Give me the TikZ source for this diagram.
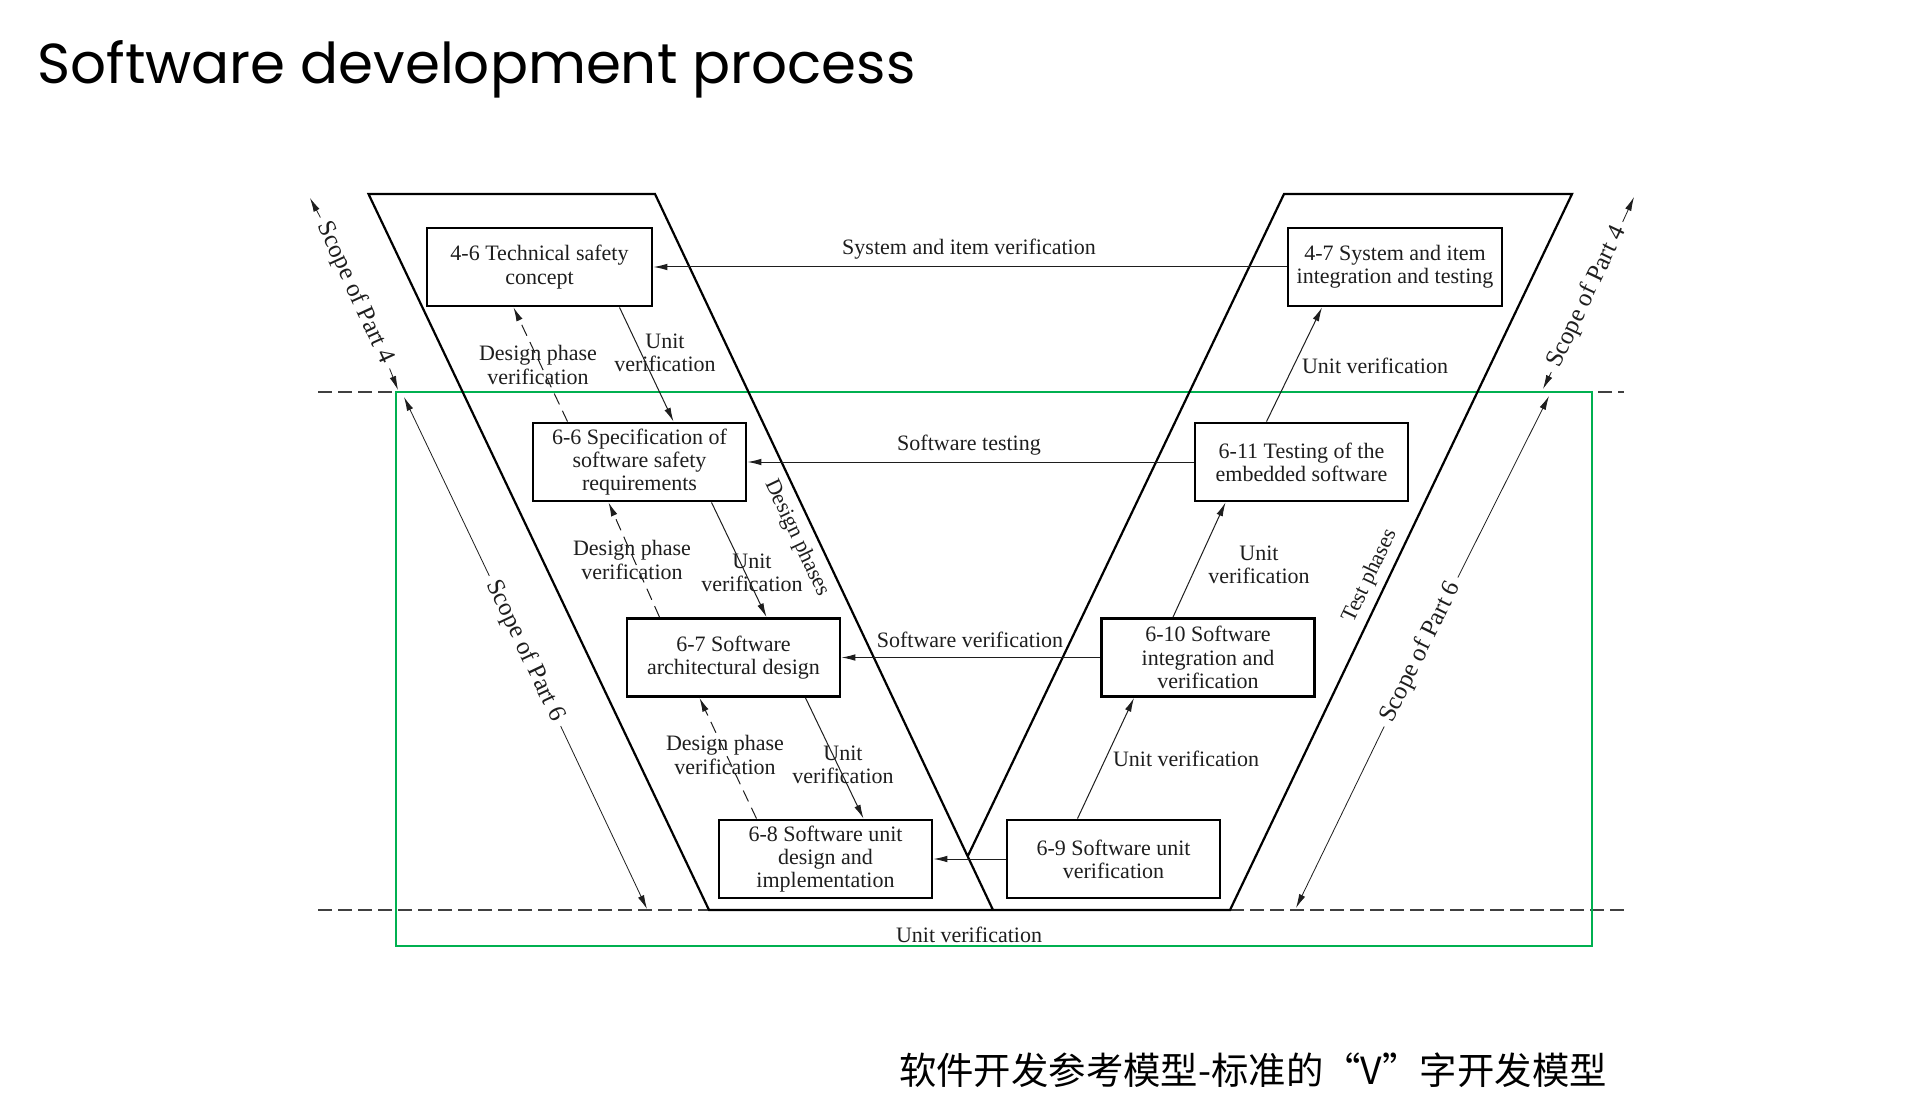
\documentclass[tikz,border=0pt]{standalone}
\usepackage{fontspec}
\usepackage{graphicx}
\setmainfont{Liberation Serif}
\newfontfamily\titlefont{Poppins}
\newfontfamily\cjkfont{Noto Sans CJK SC}
\usetikzlibrary{arrows.meta,calc}
\definecolor{vgreen}{RGB}{0,176,80}
\definecolor{ink}{RGB}{30,30,30}
\begin{document}
\begin{tikzpicture}[x=0.5pt,y=-0.5pt,
  lbl/.style={font=\fontsize{11}{11.6}\selectfont, text=ink, align=center, inner sep=1pt},
  scopelbl/.style={font=\fontsize{12.5}{13}\selectfont, text=ink, inner sep=3pt},
  stage/.style={draw=black, line width=1.4pt, minimum width=106.5pt, minimum height=39pt,
    align=center, font=\fontsize{11}{11.6}\selectfont, text=ink, inner sep=1pt},
  arr/.style={line width=0.5pt, draw=ink, -{Latex[length=7pt,width=3.3pt]}},
  dasharr/.style={arr, dash pattern=on 6pt off 3.5pt},
  sarr/.style={line width=0.4pt, draw=ink, -{Latex[length=7pt,width=3.3pt]}},
  vline/.style={line width=1.1pt, draw=black},
  bound/.style={line width=0.7pt, draw=ink!85, dash pattern=on 7pt off 3pt}]
\useasboundingbox (0,0) rectangle (1926,1117);
\fill[white] (0,0) rectangle (1926,1117);

% title and caption
\node[anchor=base west, inner sep=0] (title) at (37,84)
  {\resizebox{439pt}{!}{\titlefont Software development process}};
\node[font=\cjkfont\fontsize{18.7}{18.7}\selectfont, inner sep=0] (caption) at (1253,1070)
  {软件开发参考模型-标准的“V”字开发模型};

% scope boundaries
\draw[bound] (318,392) -- (1624,392);
\draw[bound] (318,910) -- (709,910);
\draw[bound] (1230,910) -- (1624,910);

% green frame
\draw[vgreen, line width=1pt] (395.5,392.5) rectangle (1592,946);

% V shape
\coordinate (LTL) at (368.5,194);
\coordinate (LTR) at (655,194);
\coordinate (LBL) at (709,910);
\coordinate (LBR) at (993,910);
\coordinate (RTL) at (1284,194);
\coordinate (RTR) at (1572,194);
\coordinate (RBR) at (1230,910);
\coordinate (RBLx) at (942,910);
\coordinate (VX) at (intersection of LTR--LBR and RTL--RBLx);
\draw[vline] (LBR) -- (LTR) -- (LTL) -- (LBL) -- (RBR) -- (RTR) -- (RTL) -- (VX);

% stages
\node[stage, minimum width=112.5pt] (n46) at (539.5,267) {4-6 Technical safety\\concept};
\node[stage, minimum width=107pt] (n47) at (1395,267) {4-7 System and item\\integration and testing};
\node[stage] (n66) at (639.5,462) {6-6 Specification of\\software safety\\requirements};
\node[stage] (n611) at (1301.5,462) {6-11 Testing of the\\embedded software};
\node[stage] (n67) at (733.5,657.5) {6-7 Software\\architectural design};
\node[stage] (n610) at (1208,657.5) {6-10 Software\\integration and\\verification};
\node[stage] (n68) at (825.5,859) {6-8 Software unit\\design and\\implementation};
\node[stage] (n69) at (1113.5,859) {6-9 Software unit\\verification};

% horizontal verification arrows
\draw[arr] (n47.west) -- (n46.east);
\draw[arr] (n611.west) -- (n66.east);
\draw[arr] (n610.west) -- (n67.east);
\draw[arr] (n69.west) -- (n68.east);
\node[lbl] (l1) at (969,249) {System and item verification};
\node[lbl] (l2) at (969,445) {Software testing};
\node[lbl] (l3) at (970,640) {Software verification};
\node[lbl] (l4) at (969,935) {Unit verification};

% left side diagonals
\draw[dasharr] ($(n66.north)+(-72,0)$) -- ($(n46.south)+(-26,0)$);
\draw[arr] ($(n46.south)+(80,0)$) -- ($(n66.north)+(34,0)$);
\draw[dasharr] ($(n67.north)+(-74,0)$) -- ($(n66.south)+(-31,0)$);
\draw[arr] ($(n66.south)+(72,0)$) -- ($(n67.north)+(33,0)$);
\draw[dasharr] ($(n68.north)+(-69,0)$) -- ($(n67.south)+(-34,0)$);
\draw[arr] ($(n67.south)+(72,0)$) -- ($(n68.north)+(38,0)$);
\node[lbl] (dv1) at (538,365) {Design phase\\verification};
\node[lbl] (uv1) at (665,353) {Unit\\verification};
\node[lbl] (dv2) at (632,560) {Design phase\\verification};
\node[lbl] (uv2) at (752,573) {Unit\\verification};
\node[lbl] (dv3) at (725,755) {Design phase\\verification};
\node[lbl] (uv3) at (843,765) {Unit\\verification};

% right side diagonals
\draw[arr] ($(n69.north)+(-36,0)$) -- ($(n610.south)+(-74,0)$);
\draw[arr] ($(n610.north)+(-35,0)$) -- ($(n611.south)+(-76,0)$);
\draw[arr] ($(n611.north)+(-35,0)$) -- ($(n47.south)+(-73,0)$);
\node[lbl] (uvr1) at (1186,759) {Unit verification};
\node[lbl] (uvr2) at (1259,565) {Unit\\verification};
\node[lbl] (uvr3) at (1375,366) {Unit verification};

% phase labels
\node[lbl, rotate=-64.5] (dphase) at (797,538) {Design phases};
\node[lbl, rotate=64.5] (tphase) at (1370,576) {Test phases};

% scope arrows
\node[scopelbl, rotate=-65.4] (s4l) at (355,293) {Scope of Part 4};
\coordinate (s4lA) at (310,198);
\coordinate (s4lB) at (398,390);
\draw[sarr] (s4l.west) -- (s4lA);
\draw[sarr] (s4l.east) -- (s4lB);

\node[scopelbl, rotate=-64.6] (s6l) at (525,651) {Scope of Part 6};
\coordinate (s6lA) at (404,397);
\coordinate (s6lB) at (647,909);
\draw[sarr] (s6l.west) -- (s6lA);
\draw[sarr] (s6l.east) -- (s6lB);

\node[scopelbl, rotate=64.6] (s4r) at (1587,297) {Scope of Part 4};
\coordinate (s4rA) at (1543,389);
\coordinate (s4rB) at (1634,197);
\draw[sarr] (s4r.west) -- (s4rA);
\draw[sarr] (s4r.east) -- (s4rB);

\node[scopelbl, rotate=63.7] (s6r) at (1421,652) {Scope of Part 6};
\coordinate (s6rA) at (1296,908);
\coordinate (s6rB) at (1549,396);
\draw[sarr] (s6r.west) -- (s6rA);
\draw[sarr] (s6r.east) -- (s6rB);
\end{tikzpicture}
\end{document}
